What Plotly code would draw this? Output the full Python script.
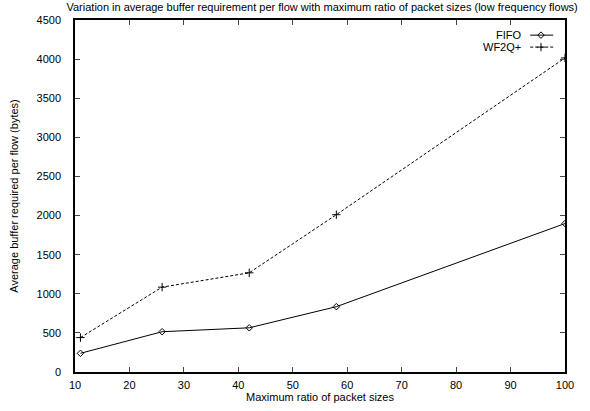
import plotly.graph_objects as go

x_vals = [11, 26, 42, 58, 100]
fifo = [239, 515, 565, 835, 1898]
wf2q = [440, 1085, 1268, 2011, 4015]
series_names = ["FIFO", "WF2Q+"]

FONT = "Liberation Sans, Arial, sans-serif"
FS = 11

fig = go.Figure()
fig.add_trace(go.Scatter(x=x_vals, y=fifo, mode="lines+markers", name=series_names[0],
                         line=dict(color="black", width=1),
                         marker=dict(symbol="diamond-open", size=5, color="black", line=dict(width=1)),
                         showlegend=False))
fig.add_trace(go.Scatter(x=x_vals, y=wf2q, mode="lines+markers", name=series_names[1],
                         line=dict(color="black", width=1, dash="3px,2px"),
                         marker=dict(symbol="cross-thin-open", size=6, color="black", line=dict(width=1, color="black")),
                         showlegend=False))

# gnuplot-style legend keys on an overlay axis
key_y = [0.957, 0.923]
fig.add_trace(go.Scatter(x=[0.929, 0.976], y=[key_y[0]] * 2, xaxis="x2", yaxis="y2", mode="lines",
                         line=dict(color="black", width=1), showlegend=False, hoverinfo="skip"))
fig.add_trace(go.Scatter(x=[0.951], y=[key_y[0]], xaxis="x2", yaxis="y2", mode="markers",
                         marker=dict(symbol="diamond-open", size=5, color="black", line=dict(width=1)),
                         showlegend=False, hoverinfo="skip"))
fig.add_trace(go.Scatter(x=[0.929, 0.976], y=[key_y[1]] * 2, xaxis="x2", yaxis="y2", mode="lines",
                         line=dict(color="black", width=1, dash="3px,2px"), showlegend=False, hoverinfo="skip"))
fig.add_trace(go.Scatter(x=[0.951], y=[key_y[1]], xaxis="x2", yaxis="y2", mode="markers",
                         marker=dict(symbol="cross-thin-open", size=6, color="black", line=dict(width=1, color="black")),
                         showlegend=False, hoverinfo="skip"))

for name, yy in zip(series_names, key_y):
    fig.add_annotation(x=0.912, y=yy, xref="paper", yref="paper", text=name, showarrow=False,
                       xanchor="right", yanchor="middle", borderpad=0,
                       font=dict(family=FONT, size=FS, color="black"))

fig.update_layout(
    width=590, height=411,
    margin=dict(l=75, r=25, t=20, b=33),
    paper_bgcolor="white", plot_bgcolor="white",
    font=dict(family=FONT, size=FS, color="black"),
    title=dict(text="Variation in average buffer requirement per flow with maximum ratio of packet sizes (low frequency flows)",
               x=0.546, xref="container", xanchor="center", y=0.993, yanchor="top",
               font=dict(family=FONT, size=FS, color="black")),
    xaxis=dict(range=[10, 100], tickvals=list(range(10, 101, 10)), ticks="inside", ticklen=5,
               showline=True, linecolor="black", linewidth=1.5, mirror="ticks", showgrid=False, zeroline=False,
               tickfont=dict(size=FS), ticklabelstandoff=2,
               title=dict(text="Maximum ratio of packet sizes", standoff=0, font=dict(size=FS))),
    yaxis=dict(range=[0, 4500], tickvals=list(range(0, 4501, 500)), ticks="inside", ticklen=5,
               showline=True, linecolor="black", linewidth=1.5, mirror="ticks", showgrid=False, zeroline=False,
               tickfont=dict(size=FS), ticklabelstandoff=10,
               title=dict(text="Average buffer required per flow (bytes)", standoff=16, font=dict(size=FS))),
    xaxis2=dict(overlaying="x", range=[0, 1], visible=False, fixedrange=True),
    yaxis2=dict(overlaying="y", range=[0, 1], visible=False, fixedrange=True),
)

fig.write_html("out.html",
               config={"displayModeBar": False, "responsive": False},
               post_script="document.body.style.margin='0';document.body.style.overflow='hidden';")
